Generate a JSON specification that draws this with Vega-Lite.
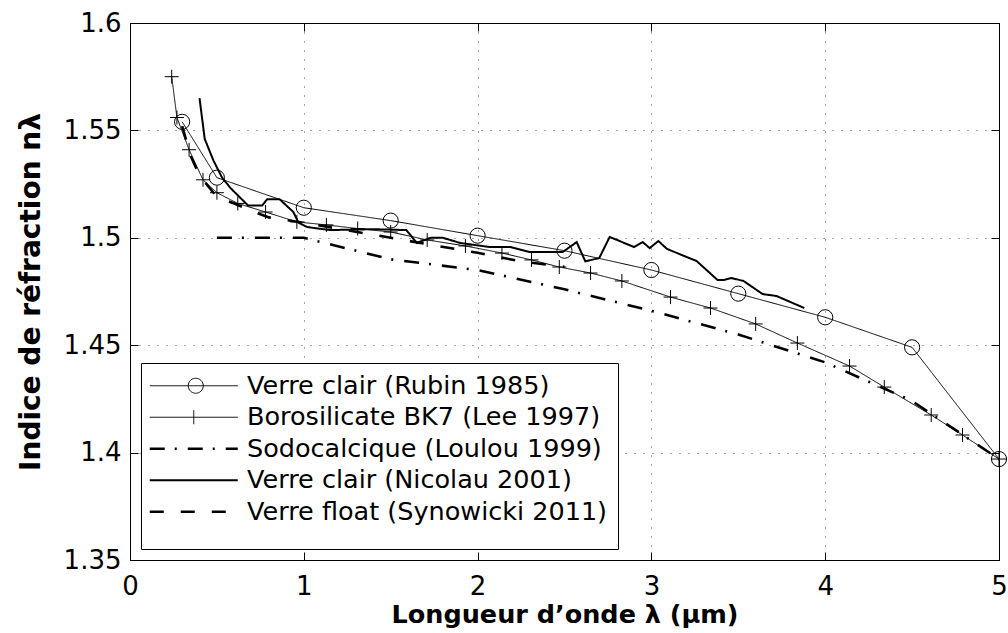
{
  "$schema": "https://vega.github.io/schema/vega-lite/v6.json",
  "width": 869,
  "height": 537,
  "autosize": "none",
  "padding": {"left": 130, "top": 23, "right": 9, "bottom": 73},
  "background": "white",
  "config": {
    "view": {"stroke": "black", "strokeWidth": 1},
    "font": "DejaVu Sans",
    "axis": {
      "domainColor": "black", "tickColor": "black", "labelColor": "black", "titleColor": "black",
      "labelFont": "DejaVu Sans", "titleFont": "DejaVu Sans", "labelFontSize": 26, "titleFontSize": 25.5,
      "titleFontWeight": "bold", "tickSize": -8, "gridColor": "black", "gridDash": [1, 8], "gridOpacity": 0.7,
      "labelFlush": false
    }
  },
  "data": {"values": [
    {"s": "Verre clair (Rubin 1985)", "x": 0.3, "y": 1.554},
    {"s": "Verre clair (Rubin 1985)", "x": 0.5, "y": 1.528},
    {"s": "Verre clair (Rubin 1985)", "x": 1.0, "y": 1.514},
    {"s": "Verre clair (Rubin 1985)", "x": 1.5, "y": 1.508},
    {"s": "Verre clair (Rubin 1985)", "x": 2.0, "y": 1.501},
    {"s": "Verre clair (Rubin 1985)", "x": 2.5, "y": 1.494},
    {"s": "Verre clair (Rubin 1985)", "x": 3.0, "y": 1.485},
    {"s": "Verre clair (Rubin 1985)", "x": 3.5, "y": 1.474},
    {"s": "Verre clair (Rubin 1985)", "x": 4.0, "y": 1.463},
    {"s": "Verre clair (Rubin 1985)", "x": 4.5, "y": 1.449},
    {"s": "Verre clair (Rubin 1985)", "x": 5.0, "y": 1.397},
    {"s": "Borosilicate BK7 (Lee 1997)", "x": 0.24, "y": 1.575},
    {"s": "Borosilicate BK7 (Lee 1997)", "x": 0.27, "y": 1.556},
    {"s": "Borosilicate BK7 (Lee 1997)", "x": 0.34, "y": 1.541},
    {"s": "Borosilicate BK7 (Lee 1997)", "x": 0.42, "y": 1.527},
    {"s": "Borosilicate BK7 (Lee 1997)", "x": 0.5, "y": 1.521},
    {"s": "Borosilicate BK7 (Lee 1997)", "x": 0.62, "y": 1.516},
    {"s": "Borosilicate BK7 (Lee 1997)", "x": 0.78, "y": 1.512},
    {"s": "Borosilicate BK7 (Lee 1997)", "x": 0.96, "y": 1.5074},
    {"s": "Borosilicate BK7 (Lee 1997)", "x": 1.13, "y": 1.506},
    {"s": "Borosilicate BK7 (Lee 1997)", "x": 1.31, "y": 1.5043},
    {"s": "Borosilicate BK7 (Lee 1997)", "x": 1.5, "y": 1.5027},
    {"s": "Borosilicate BK7 (Lee 1997)", "x": 1.71, "y": 1.499},
    {"s": "Borosilicate BK7 (Lee 1997)", "x": 1.93, "y": 1.4962},
    {"s": "Borosilicate BK7 (Lee 1997)", "x": 2.14, "y": 1.4929},
    {"s": "Borosilicate BK7 (Lee 1997)", "x": 2.31, "y": 1.4897},
    {"s": "Borosilicate BK7 (Lee 1997)", "x": 2.47, "y": 1.4864},
    {"s": "Borosilicate BK7 (Lee 1997)", "x": 2.65, "y": 1.4836},
    {"s": "Borosilicate BK7 (Lee 1997)", "x": 2.83, "y": 1.4799},
    {"s": "Borosilicate BK7 (Lee 1997)", "x": 3.11, "y": 1.4724},
    {"s": "Borosilicate BK7 (Lee 1997)", "x": 3.34, "y": 1.4673},
    {"s": "Borosilicate BK7 (Lee 1997)", "x": 3.6, "y": 1.4599},
    {"s": "Borosilicate BK7 (Lee 1997)", "x": 3.84, "y": 1.451},
    {"s": "Borosilicate BK7 (Lee 1997)", "x": 4.14, "y": 1.4403},
    {"s": "Borosilicate BK7 (Lee 1997)", "x": 4.34, "y": 1.4305},
    {"s": "Borosilicate BK7 (Lee 1997)", "x": 4.61, "y": 1.4175},
    {"s": "Borosilicate BK7 (Lee 1997)", "x": 4.79, "y": 1.4082},
    {"s": "Borosilicate BK7 (Lee 1997)", "x": 5.0, "y": 1.397},
    {"s": "Sodocalcique (Loulou 1999)", "x": 0.5, "y": 1.5},
    {"s": "Sodocalcique (Loulou 1999)", "x": 1.0, "y": 1.5},
    {"s": "Sodocalcique (Loulou 1999)", "x": 1.5, "y": 1.49},
    {"s": "Sodocalcique (Loulou 1999)", "x": 2.0, "y": 1.485},
    {"s": "Sodocalcique (Loulou 1999)", "x": 2.5, "y": 1.476},
    {"s": "Sodocalcique (Loulou 1999)", "x": 3.0, "y": 1.466},
    {"s": "Sodocalcique (Loulou 1999)", "x": 3.5, "y": 1.455},
    {"s": "Sodocalcique (Loulou 1999)", "x": 4.0, "y": 1.442},
    {"s": "Sodocalcique (Loulou 1999)", "x": 4.5, "y": 1.424},
    {"s": "Sodocalcique (Loulou 1999)", "x": 5.0, "y": 1.397},
    {"s": "Verre clair (Nicolau 2001)", "x": 0.4, "y": 1.565},
    {"s": "Verre clair (Nicolau 2001)", "x": 0.43, "y": 1.546},
    {"s": "Verre clair (Nicolau 2001)", "x": 0.48, "y": 1.536},
    {"s": "Verre clair (Nicolau 2001)", "x": 0.53, "y": 1.528},
    {"s": "Verre clair (Nicolau 2001)", "x": 0.58, "y": 1.523},
    {"s": "Verre clair (Nicolau 2001)", "x": 0.63, "y": 1.519},
    {"s": "Verre clair (Nicolau 2001)", "x": 0.68, "y": 1.515},
    {"s": "Verre clair (Nicolau 2001)", "x": 0.76, "y": 1.515},
    {"s": "Verre clair (Nicolau 2001)", "x": 0.79, "y": 1.518},
    {"s": "Verre clair (Nicolau 2001)", "x": 0.86, "y": 1.518},
    {"s": "Verre clair (Nicolau 2001)", "x": 0.94, "y": 1.512},
    {"s": "Verre clair (Nicolau 2001)", "x": 0.97, "y": 1.507},
    {"s": "Verre clair (Nicolau 2001)", "x": 1.02, "y": 1.505},
    {"s": "Verre clair (Nicolau 2001)", "x": 1.15, "y": 1.5036},
    {"s": "Verre clair (Nicolau 2001)", "x": 1.4, "y": 1.504},
    {"s": "Verre clair (Nicolau 2001)", "x": 1.59, "y": 1.5036},
    {"s": "Verre clair (Nicolau 2001)", "x": 1.65, "y": 1.4976},
    {"s": "Verre clair (Nicolau 2001)", "x": 1.73, "y": 1.5},
    {"s": "Verre clair (Nicolau 2001)", "x": 1.8, "y": 1.5},
    {"s": "Verre clair (Nicolau 2001)", "x": 1.9, "y": 1.4976},
    {"s": "Verre clair (Nicolau 2001)", "x": 2.07, "y": 1.4957},
    {"s": "Verre clair (Nicolau 2001)", "x": 2.19, "y": 1.4957},
    {"s": "Verre clair (Nicolau 2001)", "x": 2.3, "y": 1.4934},
    {"s": "Verre clair (Nicolau 2001)", "x": 2.49, "y": 1.4934},
    {"s": "Verre clair (Nicolau 2001)", "x": 2.57, "y": 1.498},
    {"s": "Verre clair (Nicolau 2001)", "x": 2.62, "y": 1.489},
    {"s": "Verre clair (Nicolau 2001)", "x": 2.7, "y": 1.4906},
    {"s": "Verre clair (Nicolau 2001)", "x": 2.76, "y": 1.5004},
    {"s": "Verre clair (Nicolau 2001)", "x": 2.9, "y": 1.4957},
    {"s": "Verre clair (Nicolau 2001)", "x": 2.95, "y": 1.498},
    {"s": "Verre clair (Nicolau 2001)", "x": 2.99, "y": 1.4952},
    {"s": "Verre clair (Nicolau 2001)", "x": 3.04, "y": 1.4985},
    {"s": "Verre clair (Nicolau 2001)", "x": 3.09, "y": 1.4948},
    {"s": "Verre clair (Nicolau 2001)", "x": 3.26, "y": 1.4892},
    {"s": "Verre clair (Nicolau 2001)", "x": 3.38, "y": 1.4804},
    {"s": "Verre clair (Nicolau 2001)", "x": 3.42, "y": 1.4804},
    {"s": "Verre clair (Nicolau 2001)", "x": 3.46, "y": 1.4813},
    {"s": "Verre clair (Nicolau 2001)", "x": 3.53, "y": 1.4799},
    {"s": "Verre clair (Nicolau 2001)", "x": 3.64, "y": 1.4738},
    {"s": "Verre clair (Nicolau 2001)", "x": 3.72, "y": 1.4729},
    {"s": "Verre clair (Nicolau 2001)", "x": 3.88, "y": 1.4673},
    {"s": "Verre float (Synowicki 2011)", "x": 0.3, "y": 1.552},
    {"s": "Verre float (Synowicki 2011)", "x": 0.35, "y": 1.538},
    {"s": "Verre float (Synowicki 2011)", "x": 0.4, "y": 1.529},
    {"s": "Verre float (Synowicki 2011)", "x": 0.5, "y": 1.519},
    {"s": "Verre float (Synowicki 2011)", "x": 0.6, "y": 1.516},
    {"s": "Verre float (Synowicki 2011)", "x": 0.7, "y": 1.5125},
    {"s": "Verre float (Synowicki 2011)", "x": 0.8, "y": 1.5095},
    {"s": "Verre float (Synowicki 2011)", "x": 1.0, "y": 1.507},
    {"s": "Verre float (Synowicki 2011)", "x": 1.25, "y": 1.5035},
    {"s": "Verre float (Synowicki 2011)", "x": 1.5, "y": 1.5},
    {"s": "Verre float (Synowicki 2011)", "x": 1.75, "y": 1.4965},
    {"s": "Verre float (Synowicki 2011)", "x": 2.0, "y": 1.493},
    {"s": "Verre float (Synowicki 2011)", "x": 2.25, "y": 1.489},
    {"s": "Verre float (Synowicki 2011)", "x": 2.5, "y": 1.4865}
  ]},
  "layer": [
    {
      "transform": [{"filter": "datum.s === 'Verre clair (Rubin 1985)' || datum.s === 'Borosilicate BK7 (Lee 1997)'"}],
      "mark": {"type": "line", "color": "black", "strokeWidth": 1, "strokeCap": "butt"},
      "encoding": {
        "x": {"field": "x", "type": "quantitative", "scale": {"domain": [0, 5], "nice": false, "zero": false},
              "axis": {"values": [0, 1, 2, 3, 4, 5], "format": "d", "title": "Longueur d’onde λ (μm)", "grid": true, "labelPadding": 21, "titlePadding": 3}},
        "y": {"field": "y", "type": "quantitative", "scale": {"domain": [1.35, 1.6], "nice": false, "zero": false},
              "axis": {"values": [1.35, 1.4, 1.45, 1.5, 1.55, 1.6], "labelExpr": "'' + datum.value", "title": "Indice de réfraction nλ", "titleFontSize": 28, "grid": true, "labelPadding": 17, "titlePadding": 18}},
        "strokeDash": {"field": "s", "type": "nominal",
          "scale": {"domain": ["Verre clair (Rubin 1985)", "Borosilicate BK7 (Lee 1997)", "Sodocalcique (Loulou 1999)", "Verre clair (Nicolau 2001)", "Verre float (Synowicki 2011)"],
                    "range": [[1, 0], [1, 0], [15, 10, 2, 11], [1, 0], [14, 17]]},
          "legend": {
            "title": " ", "titleOrient": "bottom", "titleFontSize": 10, "titlePadding": 4,
            "orient": "bottom-left", "offset": 11,
            "fillColor": "white", "strokeColor": "black", "padding": 10,
            "labelFont": "DejaVu Sans", "labelFontSize": 25.5, "labelColor": "black", "labelLimit": 2000,
            "symbolSize": 400, "labelOffset": 70.5, "rowPadding": 4.5,
            "symbolType": {"expr": "datum.value === 'Verre clair (Rubin 1985)' ? 'M-1.4,0L7.4,0M3.95,0A0.75,0.75 0 1 1 2.45,0A0.75,0.75 0 1 1 3.95,0' : datum.value === 'Borosilicate BK7 (Lee 1997)' ? 'M-1.4,0L7.4,0M3,-0.7L3,0.7' : 'M-1.4,0L7.4,0'"},
            "symbolStrokeWidth": {"expr": "datum.value === 'Sodocalcique (Loulou 1999)' || datum.value === 'Verre float (Synowicki 2011)' ? 2.6 : datum.value === 'Verre clair (Nicolau 2001)' ? 2 : 1"},
            "symbolFillColor": "transparent",
            "symbolStrokeColor": "black",
            "symbolOpacity": 1
          }},
        "order": {"field": "x", "type": "quantitative"}
      }
    },
    {
      "transform": [{"filter": "datum.s === 'Verre clair (Nicolau 2001)'"}],
      "mark": {"type": "line", "color": "black", "strokeWidth": 2, "strokeCap": "butt"},
      "encoding": {
        "x": {"field": "x", "type": "quantitative", "axis": null},
        "y": {"field": "y", "type": "quantitative", "axis": null},
        "strokeDash": {"field": "s", "type": "nominal",
          "scale": {"domain": ["Verre clair (Rubin 1985)", "Borosilicate BK7 (Lee 1997)", "Sodocalcique (Loulou 1999)", "Verre clair (Nicolau 2001)", "Verre float (Synowicki 2011)"],
                    "range": [[1, 0], [1, 0], [15, 10, 2, 11], [1, 0], [14, 17]]}},
        "order": {"field": "x", "type": "quantitative"}
      }
    },
    {
      "transform": [{"filter": "datum.s === 'Sodocalcique (Loulou 1999)' || datum.s === 'Verre float (Synowicki 2011)'"}],
      "mark": {"type": "line", "color": "black", "strokeWidth": 2.6, "strokeCap": "butt"},
      "encoding": {
        "x": {"field": "x", "type": "quantitative", "axis": null},
        "y": {"field": "y", "type": "quantitative", "axis": null},
        "strokeDash": {"field": "s", "type": "nominal",
          "scale": {"domain": ["Verre clair (Rubin 1985)", "Borosilicate BK7 (Lee 1997)", "Sodocalcique (Loulou 1999)", "Verre clair (Nicolau 2001)", "Verre float (Synowicki 2011)"],
                    "range": [[1, 0], [1, 0], [15, 10, 2, 11], [1, 0], [14, 17]]}},
        "order": {"field": "x", "type": "quantitative"}
      }
    },
    {
      "transform": [{"filter": "datum.s === 'Verre clair (Rubin 1985)' || datum.s === 'Borosilicate BK7 (Lee 1997)'"}],
      "mark": {"type": "point", "filled": false, "color": "black", "strokeWidth": 1, "opacity": 1},
      "encoding": {
        "x": {"field": "x", "type": "quantitative", "axis": null},
        "y": {"field": "y", "type": "quantitative", "axis": null},
        "shape": {"field": "s", "type": "nominal",
          "scale": {"domain": ["Verre clair (Rubin 1985)", "Borosilicate BK7 (Lee 1997)"], "range": ["circle", "M-1,0L1,0M0,-1L0,1"]}, "legend": null},
        "size": {"field": "s", "type": "ordinal",
          "scale": {"domain": ["Verre clair (Rubin 1985)", "Borosilicate BK7 (Lee 1997)"], "range": [230, 196]}, "legend": null}
      }
    },
    {
      "mark": {"type": "point", "opacity": 0},
      "encoding": {
        "x": {"field": "x", "type": "quantitative", "axis": {"orient": "top", "values": [0, 1, 2, 3, 4, 5], "labels": false, "title": null, "grid": false}},
        "y": {"field": "y", "type": "quantitative", "axis": {"orient": "right", "values": [1.35, 1.4, 1.45, 1.5, 1.55, 1.6], "labels": false, "title": null, "grid": false}}
      }
    }
  ],
  "resolve": {"axis": {"x": "independent", "y": "independent"}}
}
